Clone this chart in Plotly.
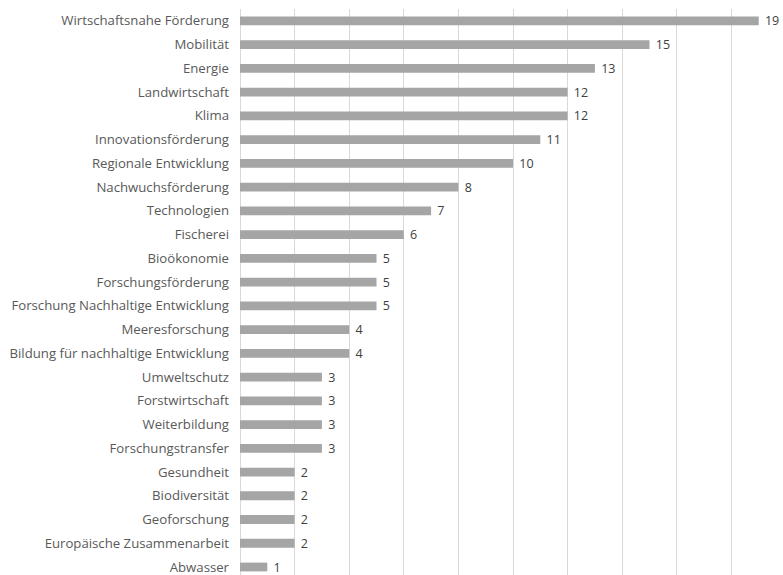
import plotly.graph_objects as go

categories = [
    "Wirtschaftsnahe Förderung", "Mobilität", "Energie", "Landwirtschaft", "Klima",
    "Innovationsförderung", "Regionale Entwicklung", "Nachwuchsförderung", "Technologien",
    "Fischerei", "Bioökonomie", "Forschungsförderung", "Forschung Nachhaltige Entwicklung",
    "Meeresforschung", "Bildung für nachhaltige Entwicklung", "Umweltschutz", "Forstwirtschaft",
    "Weiterbildung", "Forschungstransfer", "Gesundheit", "Biodiversität", "Geoforschung",
    "Europäische Zusammenarbeit", "Abwasser",
]
values = [19, 15, 13, 12, 12, 11, 10, 8, 7, 6, 5, 5, 5, 4, 4, 3, 3, 3, 3, 2, 2, 2, 2, 1]

fig = go.Figure(go.Bar(
    x=values, y=categories, orientation="h",
    marker=dict(color="#A5A5A5", line=dict(width=0)),
    width=0.37,
    text=[" " + str(v) for v in values], textposition="outside",
    constraintext="none",
    textfont=dict(family="Open Sans", size=12.5, color="#404040"),
    cliponaxis=False,
    hoverinfo="skip",
))

fig.update_layout(
    width=783, height=575,
    margin=dict(l=240, r=0, t=9, b=0),
    plot_bgcolor="white", paper_bgcolor="white",
    showlegend=False,
    xaxis=dict(range=[0, 19.89], dtick=2, showgrid=True, gridcolor="#D9D9D9", gridwidth=1,
               showticklabels=False, zeroline=True, zerolinecolor="#D9D9D9", zerolinewidth=1,
               automargin=False, fixedrange=True),
    yaxis=dict(type="category", categoryorder="array", categoryarray=categories,
               range=[23.337, -0.5], showgrid=False, ticks="",
               tickfont=dict(family="Open Sans", size=13.2, color="#595959"),
               ticklabelstandoff=10, automargin=False, fixedrange=True),
)

fig.write_html(
    "out.html",
    config={"displayModeBar": False, "staticPlot": True},
    post_script="document.body.style.margin='0';document.body.style.overflow='hidden';",
)
